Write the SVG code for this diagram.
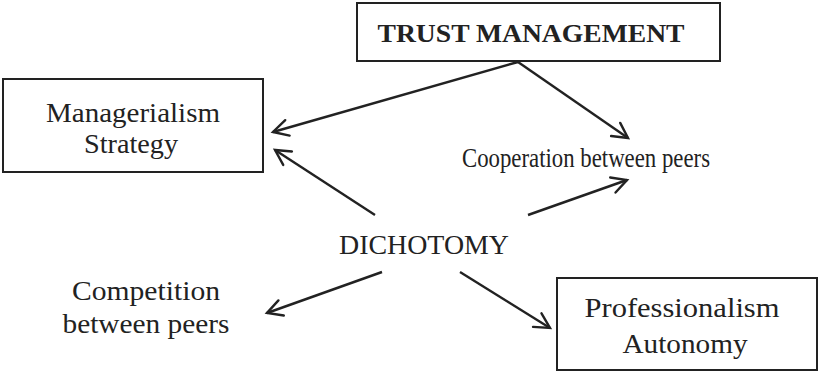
<svg xmlns="http://www.w3.org/2000/svg" width="820" height="373" viewBox="0 0 820 373">
  <style>
    .box { fill: #fff; stroke: #222; stroke-width: 2; }
    .lbl { font-family: "Liberation Serif", "Times New Roman", serif; font-size: 27px; fill: #222; text-anchor: middle; }
    .bold { font-weight: bold; font-size: 25px; }
    .conn { stroke: #222; stroke-width: 2.4; fill: none; marker-end: url(#arrow); }
  </style>
  <defs>
    <marker id="arrow" markerUnits="userSpaceOnUse" markerWidth="30" markerHeight="30" refX="0" refY="0" viewBox="-20 -15 30 30" orient="auto" overflow="visible">
      <path d="M-15,-8 L0,0 L-15,8" fill="none" stroke="#222" stroke-width="2.4" stroke-linecap="round" stroke-linejoin="miter"/>
    </marker>
  </defs>

  <g id="trust-management">
    <rect class="box" x="357" y="3" width="363" height="58"/>
    <text class="lbl bold" x="531" y="42" textLength="307" lengthAdjust="spacingAndGlyphs">TRUST MANAGEMENT</text>
  </g>

  <g id="managerialism">
    <rect class="box" x="3" y="79" width="260" height="93"/>
    <text class="lbl" x="133" y="122" textLength="174" lengthAdjust="spacingAndGlyphs">Managerialism</text>
    <text class="lbl" x="131" y="153" textLength="94" lengthAdjust="spacingAndGlyphs">Strategy</text>
  </g>

  <g id="cooperation">
    <text class="lbl" x="586" y="167" textLength="248" lengthAdjust="spacingAndGlyphs">Cooperation between peers</text>
  </g>

  <g id="dichotomy">
    <text class="lbl" x="424" y="254" textLength="170" lengthAdjust="spacingAndGlyphs">DICHOTOMY</text>
  </g>

  <g id="competition">
    <text class="lbl" x="146" y="300" textLength="148" lengthAdjust="spacingAndGlyphs">Competition</text>
    <text class="lbl" x="146" y="333" textLength="167" lengthAdjust="spacingAndGlyphs">between peers</text>
  </g>

  <g id="professionalism">
    <rect class="box" x="557" y="278" width="260" height="92"/>
    <text class="lbl" x="682" y="317" textLength="195" lengthAdjust="spacingAndGlyphs">Professionalism</text>
    <text class="lbl" x="685" y="353" textLength="125" lengthAdjust="spacingAndGlyphs">Autonomy</text>
  </g>

  <g id="connectors">
    <line class="conn" x1="518" y1="62" x2="273" y2="132"/>
    <line class="conn" x1="518" y1="62" x2="628" y2="138"/>
    <line class="conn" x1="375" y1="215" x2="275" y2="150"/>
    <line class="conn" x1="528" y1="215" x2="627" y2="180"/>
    <line class="conn" x1="382" y1="272" x2="267" y2="313"/>
    <line class="conn" x1="460" y1="272" x2="550" y2="328"/>
  </g>
</svg>
